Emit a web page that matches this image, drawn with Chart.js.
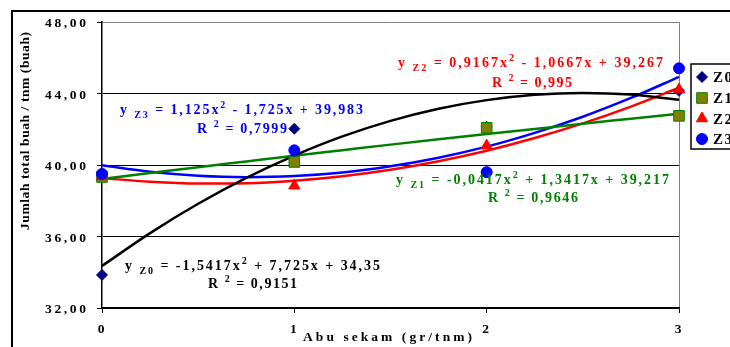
<!DOCTYPE html>
<html>
<head>
<meta charset="utf-8">
<script src="https://cdn.jsdelivr.net/npm/chart.js@4/dist/chart.umd.min.js"></script>
<style>
  html, body { margin: 0; padding: 0; background: #fff; }
  #wrap { width: 730px; height: 347px; }
</style>
</head>
<body>
<div id="wrap"><canvas id="chart" width="730" height="347"></canvas></div>
<script>
// Data
const doses = [0, 1, 2, 3];
const xTickLabels = ['0', '1', '2', '3'];
const yTickValues = [32, 36, 40, 44, 48];
const seriesNames = ['Z0', 'Z1', 'Z2', 'Z3'];

const z0Values = [33.85, 42.03, 42.13, 44.15];
const z1Values = [39.33, 40.17, 42.08, 42.75];
const z2Values = [39.36, 38.84, 41.08, 44.22];
const z3Values = [39.50, 40.82, 39.60, 45.41];

// trend curves
const trendX = [0, 0.25, 0.5, 0.75, 1, 1.25, 1.5, 1.75, 2, 2.25, 2.5, 2.75, 3];
const z0Trend = [34.35, 36.19, 37.83, 39.28, 40.53, 41.60, 42.47, 43.15, 43.63, 43.93, 44.03, 43.94, 43.65];
const z1Trend = [39.22, 39.55, 39.88, 40.20, 40.52, 40.83, 41.14, 41.44, 41.73, 42.02, 42.31, 42.59, 42.87];
const z2Trend = [39.27, 39.06, 38.96, 38.98, 39.12, 39.37, 39.73, 40.21, 40.80, 41.51, 42.33, 43.27, 44.32];
const z3Trend = [39.98, 39.62, 39.40, 39.32, 39.38, 39.58, 39.93, 40.41, 41.03, 41.80, 42.70, 43.75, 44.93];

const equations = [
    '= -1,5417x² + 7,725x + 34,35',
    '= -0,0417x² + 1,3417x + 39,217',
    '= 0,9167x² - 1,0667x + 39,267',
    '= 1,125x² - 1,725x + 39,983'
];
const rSquared = ['0,9151', '0,9646', '0,995', '0,7999'];

const yTitle = 'Jumlah total buah / tnm (buah)';
const xTitle = 'Abu sekam (gr/tnm)';

const SERIF = '"Liberation Serif", "DejaVu Serif", serif';

const pts = (xs, ys) => xs.map((x, i) => ({ x: x, y: ys[i] }));

function trendSet(ys, color) {
    return {
        data: pts(trendX, ys),
        showLine: true,
        borderColor: color,
        borderWidth: 2.5,
        pointRadius: 0,
        pointHoverRadius: 0,
        cubicInterpolationMode: 'monotone',
        fill: false,
        clip: false,
        order: 10
    };
}

const markerStyles = [
    { pointStyle: 'rectRot', radius: 5.5, bg: '#000080', border: '#000080' },
    { pointStyle: 'rect', radius: 7.5, bg: '#808000', border: '#008000' },
    { pointStyle: 'triangle', radius: 6.5, bg: '#ff0000', border: '#ff0000' },
    { pointStyle: 'circle', radius: 5.5, bg: '#0000ff', border: '#0000ff' }
];

function markerSet(ys, i) {
    const s = markerStyles[i];
    return {
        label: seriesNames[i],
        data: pts(doses, ys),
        showLine: false,
        pointStyle: s.pointStyle,
        pointRadius: s.radius,
        pointHoverRadius: s.radius,
        pointBackgroundColor: s.bg,
        pointBorderColor: s.border,
        pointBorderWidth: 1,
        clip: false,
        order: 4 - i
    };
}

// text with even letter spacing stretched to a given width
function richParts(str) {
    const parts = [];
    str.split('²').forEach((seg, i) => {
        if (i > 0) parts.push(['2', 'sup']);
        if (seg) parts.push([seg, '']);
    });
    return parts;
}

function drawSpaced(ctx, parts, x, y, width, size, color) {
    const fonts = {
        '': 'bold ' + size + 'px ' + SERIF,
        sub: 'bold ' + Math.round(size * 0.72) + 'px ' + SERIF,
        sup: 'bold ' + Math.round(size * 0.72) + 'px ' + SERIF
    };
    const chars = [];
    parts.forEach(([text, kind]) => {
        ctx.font = fonts[kind];
        for (const ch of text) chars.push({ ch, kind, w: ctx.measureText(ch).width });
    });
    const natural = chars.reduce((a, c) => a + c.w, 0);
    const gap = chars.length > 1 ? (width - natural) / (chars.length - 1) : 0;
    ctx.fillStyle = color;
    ctx.textBaseline = 'alphabetic';
    ctx.textAlign = 'left';
    let cx = x;
    chars.forEach(c => {
        ctx.font = fonts[c.kind];
        const dy = c.kind === 'sub' ? size * 0.28 : c.kind === 'sup' ? -size * 0.42 : 0;
        ctx.fillText(c.ch, cx, y + dy);
        cx += c.w + gap;
    });
}

const decor = {
    id: 'decor',
    afterDraw(chart) {
        const ctx = chart.ctx;
        const xs = chart.scales.x;
        const ys = chart.scales.y;
        ctx.save();

        // outer frame
        ctx.strokeStyle = '#000';
        ctx.lineWidth = 2;
        ctx.beginPath();
        ctx.moveTo(12, 347);
        ctx.lineTo(12, 11);
        ctx.lineTo(730, 11);
        ctx.stroke();

        // y tick labels
        yTickValues.forEach(v => {
            const label = v.toFixed(2).replace('.', ',');
            drawSpaced(ctx, [[label, '']], 45, ys.getPixelForValue(v) + 5, 41, 13.5, '#000');
        });
        // x tick labels
        ctx.font = 'bold 13.5px ' + SERIF;
        ctx.fillStyle = '#000';
        ctx.textAlign = 'center';
        ctx.textBaseline = 'alphabetic';
        doses.forEach((d, i) => {
            ctx.fillText(xTickLabels[i], xs.getPixelForValue(d) - 1, 333);
        });

        // axis titles
        drawSpaced(ctx, [[xTitle, '']], 303, 341, 169, 13.5, '#000');
        ctx.save();
        ctx.translate(29, 230);
        ctx.rotate(-Math.PI / 2);
        drawSpaced(ctx, [[yTitle, '']], 0, 0, 198, 13.5, '#000');
        ctx.restore();

        // trend equations
        const eqColors = ['#000000', '#008000', '#ff0000', '#0000ff'];
        const eqPos = [
            { x: 125, y: 270, w: 255, rx: 208, ry: 288, rw: 89 },
            { x: 396, y: 184, w: 273, rx: 488, ry: 202, rw: 90 },
            { x: 398, y: 67, w: 265, rx: 492, ry: 87, rw: 80 },
            { x: 120, y: 114, w: 243, rx: 197, ry: 133, rw: 90 }
        ];
        equations.forEach((eq, i) => {
            const p = eqPos[i];
            const parts = [['y', ''], [' ', ''], [seriesNames[i], 'sub'], [' ', '']].concat(richParts(eq));
            drawSpaced(ctx, parts, p.x, p.y, p.w, 14, eqColors[i]);
            drawSpaced(ctx, [['R', ''], [' ', ''], ['2', 'sup'], [' = ' + rSquared[i], '']], p.rx, p.ry, p.rw, 14, eqColors[i]);
        });

        // legend box (runs past the right edge)
        ctx.fillStyle = '#fff';
        ctx.fillRect(691, 64, 60, 85);
        ctx.strokeStyle = '#000';
        ctx.lineWidth = 1.5;
        ctx.strokeRect(691, 64, 60, 85);
        const legendY = [77, 98, 118.5, 139];
        seriesNames.forEach((name, i) => {
            const s = markerStyles[i];
            ctx.fillStyle = s.bg;
            ctx.strokeStyle = s.border;
            ctx.lineWidth = 1;
            Chart.helpers.drawPoint(ctx, { pointStyle: s.pointStyle, radius: s.radius, rotation: 0, borderWidth: 1 }, 702, legendY[i]);
            drawSpaced(ctx, [[name, '']], 713, legendY[i] + 5, 19, 15, '#000');
        });

        ctx.restore();
    }
};

new Chart(document.getElementById('chart'), {
    type: 'scatter',
    data: {
        datasets: [
            markerSet(z0Values, 0),
            markerSet(z1Values, 1),
            markerSet(z2Values, 2),
            markerSet(z3Values, 3),
            trendSet(z0Trend, '#000000'),
            trendSet(z1Trend, '#008000'),
            trendSet(z2Trend, '#ff0000'),
            trendSet(z3Trend, '#0000ff')
        ]
    },
    options: {
        responsive: false,
        animation: false,
        devicePixelRatio: 1,
        layout: { padding: { left: 12, top: 22, right: 51, bottom: 0 } },
        plugins: {
            legend: { display: false },
            tooltip: { enabled: false }
        },
        scales: {
            x: {
                type: 'linear',
                min: 0,
                max: 3,
                ticks: { display: false, stepSize: 1 },
                grid: {
                    color: c => (c.tick && c.tick.value === 3) ? '#808080' : 'rgba(0,0,0,0)',
                    tickColor: '#000',
                    tickLength: 5,
                    lineWidth: 1
                },
                border: { display: true, color: '#000', width: 1.5 },
                afterFit: scale => { scale.height = 39; }
            },
            y: {
                min: 32,
                max: 48,
                ticks: { display: false, stepSize: 4 },
                grid: {
                    color: c => (c.tick && c.tick.value === 48) ? '#808080' : '#000',
                    tickColor: '#000',
                    tickLength: 5,
                    lineWidth: 1
                },
                border: { display: true, color: '#000', width: 1.5 },
                afterFit: scale => { scale.width = 90; }
            }
        }
    },
    plugins: [decor]
});
</script>
</body>
</html>
